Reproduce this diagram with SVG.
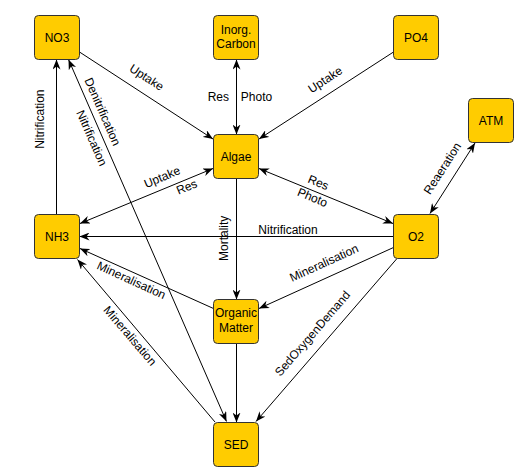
<svg xmlns="http://www.w3.org/2000/svg" width="524" height="469" viewBox="0 0 524 469">
<style>
.node rect{fill:#ffcc00;stroke:#333333;stroke-width:1}
.node text{font-family:"Liberation Sans",Arial,sans-serif;font-size:12px;fill:#000;text-anchor:middle}
.edges path{fill:none;stroke:#000;stroke-width:1}
.lbl{font-family:"Liberation Sans",Arial,sans-serif;font-size:12px;fill:#000;text-anchor:middle}
</style>
<defs>
<marker id="arr" viewBox="0 0 10 8" refX="10" refY="4" markerWidth="10" markerHeight="8" markerUnits="userSpaceOnUse" orient="auto-start-reverse">
<path d="M0,0 L10,4 L0,8 L3,4 Z" fill="#000"/>
</marker>
</defs>
<rect width="524" height="469" fill="#fff"/>
<g class="edges">
<path d="M79.5,52 L213,139" marker-end="url(#arr)"/>
<path d="M236.5,59.5 L236.5,134.5" marker-start="url(#arr)" marker-end="url(#arr)"/>
<path d="M393.5,52 L259,139" marker-end="url(#arr)"/>
<path d="M430,213.5 L475,143" marker-start="url(#arr)" marker-end="url(#arr)"/>
<path d="M80,223.5 L213,168.5" marker-start="url(#arr)" marker-end="url(#arr)"/>
<path d="M259,168.5 L393,223.5" marker-start="url(#arr)" marker-end="url(#arr)"/>
<path d="M56.5,214.5 L56.5,59.5" marker-end="url(#arr)"/>
<path d="M68.5,59.5 L226.5,421.5" marker-start="url(#arr)" marker-end="url(#arr)"/>
<path d="M393.5,236.5 L79.5,236.5" marker-end="url(#arr)"/>
<path d="M236.5,178.5 L236.5,299.5" marker-end="url(#arr)"/>
<path d="M393.5,247.5 L259,308.5" marker-end="url(#arr)"/>
<path d="M213.5,308.5 L80,248.5" marker-end="url(#arr)"/>
<path d="M215,422 L77.5,259.5" marker-end="url(#arr)"/>
<path d="M236.5,343.5 L236.5,422.5" marker-end="url(#arr)"/>
<path d="M397,258.5 L256,421.5" marker-end="url(#arr)"/>
</g>
<g id="edge-labels">
<text class="lbl" transform="translate(146,78.3) rotate(33.2)" y="3">Uptake</text>
<text class="lbl" x="218.3" y="100.7">Res</text>
<text class="lbl" x="256.5" y="100.7">Photo</text>
<text class="lbl" transform="translate(325.8,80.5) rotate(-33.2)" y="3">Uptake</text>
<text class="lbl" transform="translate(442.5,168.3) rotate(-57.3)" y="4">Reaeration</text>
<text class="lbl" transform="translate(162.5,178) rotate(-22.8)" y="3">Uptake</text>
<text class="lbl" transform="translate(186.7,187) rotate(-22.8)" y="4">Res</text>
<text class="lbl" transform="translate(318.3,182.5) rotate(22.4)" y="4">Res</text>
<text class="lbl" transform="translate(312.5,197.5) rotate(22.4)" y="4">Photo</text>
<text class="lbl" transform="translate(40,119.2) rotate(-90)" y="4">Nitrification</text>
<text class="lbl" transform="translate(102.5,111.7) rotate(66.3)" y="4">Denitrification</text>
<text class="lbl" transform="translate(91.7,138) rotate(66.3)" y="4">Nitrification</text>
<text class="lbl" x="288" y="234">Nitrification</text>
<text class="lbl" transform="translate(224.5,238.3) rotate(-90)" y="3">Mortality</text>
<text class="lbl" transform="translate(324,263) rotate(-24.4)" y="4">Mineralisation</text>
<text class="lbl" transform="translate(131.3,280.3) rotate(24.5)" y="4">Mineralisation</text>
<text class="lbl" transform="translate(130,335.8) rotate(49.4)" y="4">Mineralisation</text>
<text class="lbl" transform="translate(313.3,334.2) rotate(-49.1)" y="3">SedOxygenDemand</text>
</g>
<g id="NO3" class="node"><rect x="34.5" y="15.5" width="45" height="44" rx="4"/><text x="57" y="42">NO3</text></g>
<g id="InorgCarbon" class="node"><rect x="213.5" y="15.5" width="45" height="44" rx="4"/><text x="236" y="33.5">Inorg.</text><text x="236" y="48">Carbon</text></g>
<g id="PO4" class="node"><rect x="393.5" y="15.5" width="45" height="44" rx="4"/><text x="416" y="42">PO4</text></g>
<g id="ATM" class="node"><rect x="468.5" y="98.5" width="45" height="44" rx="4"/><text x="491" y="125">ATM</text></g>
<g id="Algae" class="node"><rect x="213.5" y="134.5" width="45" height="44" rx="4"/><text x="236" y="161">Algae</text></g>
<g id="NH3" class="node"><rect x="34.5" y="214.5" width="45" height="44" rx="4"/><text x="57" y="241">NH3</text></g>
<g id="O2" class="node"><rect x="393.5" y="214.5" width="45" height="44" rx="4"/><text x="416" y="241">O2</text></g>
<g id="OrganicMatter" class="node"><rect x="213.5" y="299.5" width="45" height="44" rx="4"/><text x="236" y="317">Organic</text><text x="236" y="331.5">Matter</text></g>
<g id="SED" class="node"><rect x="213.5" y="422.5" width="45" height="44" rx="4"/><text x="236" y="449">SED</text></g>
</svg>
